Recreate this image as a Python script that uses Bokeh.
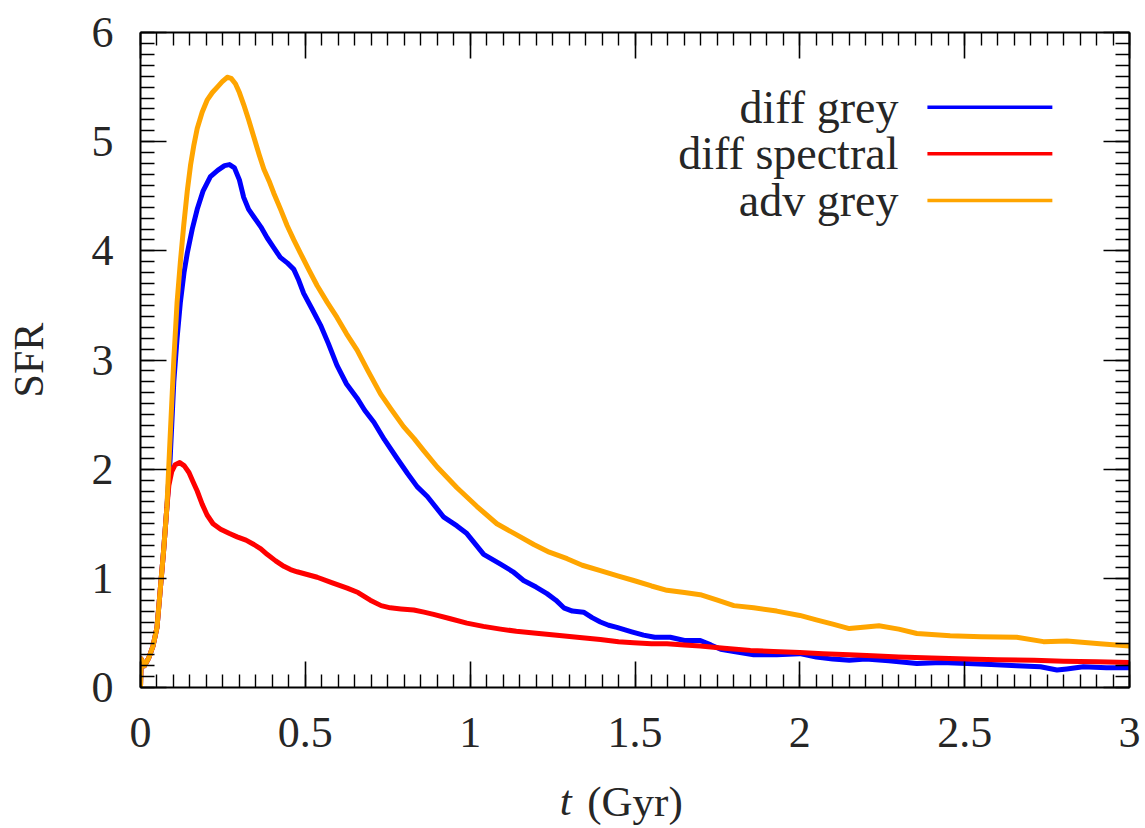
import numpy as np
from bokeh.plotting import figure
from bokeh.models import FixedTicker, LinearAxis, Range1d, Label
from bokeh.embed import file_html
from bokeh.resources import INLINE

# ---------------- data ----------------
t_start = [0, 0.002, 0.012, 0.025, 0.038, 0.05, 0.06, 0.07, 0.08]
sfr_start = [0, 0.26, 0.2, 0.27, 0.38, 0.55, 0.9, 1.25, 1.65]

t_diff_grey = [0.09, 0.101, 0.111, 0.121, 0.132, 0.142, 0.157, 0.172, 0.19, 0.212,
               0.235, 0.255, 0.27, 0.285, 0.3, 0.313, 0.328, 0.344, 0.365, 0.384,
               0.404, 0.424, 0.445, 0.465, 0.48, 0.495, 0.52, 0.546, 0.57, 0.596,
               0.625, 0.657, 0.68, 0.708, 0.74, 0.778, 0.81, 0.839, 0.87, 0.92,
               0.96, 0.99, 1.041, 1.092, 1.13, 1.162, 1.2, 1.233, 1.26, 1.284,
               1.31, 1.344, 1.37, 1.395, 1.42, 1.445, 1.49, 1.526, 1.56, 1.607,
               1.65, 1.698, 1.73, 1.76, 1.8, 1.86, 1.93, 2.0, 2.05, 2.1,
               2.15, 2.2, 2.27, 2.355, 2.43, 2.507, 2.58, 2.658, 2.73, 2.78,
               2.81, 2.86, 2.93, 3.0]
sfr_diff_grey = [2.1, 2.8, 3.2, 3.53, 3.8, 3.98, 4.2, 4.38, 4.55, 4.68,
                 4.74, 4.78, 4.79, 4.76, 4.65, 4.49, 4.38, 4.31, 4.22, 4.12,
                 4.03, 3.94, 3.89, 3.83, 3.73, 3.61, 3.47, 3.32, 3.15, 2.95,
                 2.78, 2.65, 2.54, 2.43, 2.27, 2.10, 1.96, 1.84, 1.75, 1.56,
                 1.48, 1.41, 1.22, 1.13, 1.06, 0.98, 0.92, 0.86, 0.80, 0.73,
                 0.70, 0.69, 0.64, 0.60, 0.57, 0.55, 0.51, 0.48, 0.46, 0.46,
                 0.43, 0.43, 0.39, 0.35, 0.33, 0.30, 0.30, 0.31, 0.28, 0.26,
                 0.25, 0.26, 0.245, 0.22, 0.23, 0.22, 0.21, 0.20, 0.19, 0.16,
                 0.17, 0.19, 0.18, 0.18]

t_diff_spectral = [0.086, 0.095, 0.105, 0.119, 0.133, 0.147, 0.16, 0.172, 0.187, 0.202,
                   0.22, 0.243, 0.27, 0.293, 0.32, 0.344, 0.365, 0.384, 0.41, 0.435,
                   0.455, 0.475, 0.5, 0.536, 0.58, 0.627, 0.66, 0.697, 0.73, 0.758,
                   0.79, 0.829, 0.86, 0.889, 0.94, 0.99, 1.04, 1.092, 1.14, 1.193,
                   1.24, 1.294, 1.34, 1.395, 1.45, 1.496, 1.55, 1.597, 1.65, 1.698,
                   1.77, 1.85, 1.92, 2.0, 2.07, 2.15, 2.22, 2.3, 2.4, 2.507,
                   2.6, 2.71, 2.8, 2.9, 3.0]
sfr_diff_spectral = [1.85, 1.98, 2.04, 2.06, 2.03, 1.97, 1.88, 1.80, 1.68, 1.58,
                     1.50, 1.45, 1.41, 1.38, 1.35, 1.31, 1.27, 1.22, 1.16, 1.11,
                     1.08, 1.06, 1.04, 1.01, 0.96, 0.91, 0.87, 0.80, 0.75, 0.73,
                     0.72, 0.71, 0.69, 0.67, 0.63, 0.59, 0.56, 0.535, 0.515, 0.50,
                     0.485, 0.47, 0.455, 0.44, 0.42, 0.41, 0.40, 0.40, 0.39, 0.38,
                     0.36, 0.34, 0.33, 0.32, 0.31, 0.30, 0.29, 0.28, 0.27, 0.26,
                     0.255, 0.25, 0.24, 0.235, 0.23]

t_adv_grey = [0.09, 0.101, 0.111, 0.121, 0.131, 0.142, 0.152, 0.162, 0.172, 0.187,
              0.202, 0.218, 0.233, 0.248, 0.263, 0.275, 0.288, 0.3, 0.313, 0.328,
              0.344, 0.36, 0.374, 0.39, 0.404, 0.425, 0.445, 0.465, 0.485, 0.51,
              0.536, 0.566, 0.596, 0.625, 0.657, 0.69, 0.728, 0.76, 0.798, 0.83,
              0.859, 0.9, 0.96, 1.02, 1.081, 1.14, 1.193, 1.24, 1.294, 1.34,
              1.395, 1.45, 1.496, 1.55, 1.597, 1.65, 1.698, 1.75, 1.8, 1.86,
              1.93, 2.0, 2.05, 2.1, 2.15, 2.2, 2.24, 2.3, 2.355, 2.456,
              2.55, 2.658, 2.739, 2.81, 2.91, 3.0]
sfr_adv_grey = [2.3, 3.0, 3.53, 3.9, 4.23, 4.55, 4.79, 4.97, 5.12, 5.27,
                5.38, 5.45, 5.50, 5.55, 5.59, 5.58, 5.53, 5.45, 5.34, 5.2,
                5.04, 4.88, 4.75, 4.64, 4.53, 4.38, 4.23, 4.1, 3.98, 3.83,
                3.68, 3.53, 3.39, 3.24, 3.09, 2.9, 2.69, 2.55, 2.39, 2.28,
                2.17, 2.02, 1.83, 1.66, 1.50, 1.40, 1.31, 1.24, 1.18, 1.12,
                1.07, 1.02, 0.98, 0.93, 0.89, 0.87, 0.85, 0.80, 0.75, 0.73,
                0.70, 0.66, 0.62, 0.58, 0.54, 0.555, 0.565, 0.535, 0.495, 0.474,
                0.465, 0.46, 0.42, 0.425, 0.40, 0.38]

series_names = ["diff grey", "diff spectral", "adv grey"]
series_colors = ["#0000ff", "#ff0000", "#ffa500"]

x_ticks = [0, 0.5, 1, 1.5, 2, 2.5, 3]
x_tick_labels = ["0", "0.5", "1", "1.5", "2", "2.5", "3"]
y_ticks = [0, 1, 2, 3, 4, 5, 6]
y_tick_labels = ["0", "1", "2", "3", "4", "5", "6"]

x_title_var = "t"        # italic variable
x_title_unit = "(Gyr)"   # upright unit
y_title = "SFR"

# ---------------- figure ----------------
FONT = "Liberation Serif"
TXT = "#262626"

p = figure(width=1145, height=828, output_backend="svg", toolbar_location=None,
           x_range=Range1d(0, 3), y_range=Range1d(0, 6),
           x_axis_location=None, y_axis_location=None)
p.frame_width = 989
p.frame_height = 655
p.min_border_left = 140
p.min_border_right = 16
p.min_border_top = 32
p.min_border_bottom = 141
p.outline_line_color = None
p.xgrid.visible = False
p.ygrid.visible = False
p.background_fill_color = "white"
p.border_fill_color = "white"

x_minor = [round(v, 3) for v in np.arange(0, 3.0001, 0.05)]
y_minor = [round(v, 3) for v in np.arange(0, 6.0001, 0.1)]
xt = FixedTicker(ticks=x_ticks, minor_ticks=x_minor)
yt = FixedTicker(ticks=y_ticks, minor_ticks=y_minor)


def style_axis(ax, major_len, minor_len):
    ax.axis_line_width = 2
    ax.axis_line_color = "black"
    ax.major_tick_in = major_len
    ax.major_tick_out = 0
    ax.minor_tick_in = minor_len
    ax.minor_tick_out = 0
    ax.major_tick_line_width = 1.6
    ax.minor_tick_line_width = 1.4
    ax.major_tick_line_color = "black"
    ax.minor_tick_line_color = "black"
    ax.major_label_text_font = FONT
    ax.major_label_text_font_size = "44px"
    ax.major_label_text_color = TXT


xb = LinearAxis(ticker=xt, major_label_overrides=dict(zip(x_ticks, x_tick_labels)))
style_axis(xb, 26, 13)
xb.major_label_standoff = 30
p.add_layout(xb, "below")

# second "below" axis that only carries the x title: italic "t" as a tick label,
# upright "(Gyr)" as the axis label pulled up onto the same row
T_POS = 1.29
x2 = LinearAxis(ticker=FixedTicker(ticks=[T_POS], minor_ticks=[]),
                major_label_overrides={T_POS: x_title_var})
x2.axis_line_color = None
x2.major_tick_line_color = None
x2.minor_tick_line_color = None
x2.major_tick_in = 0
x2.major_tick_out = 0
x2.major_label_standoff = 27
x2.major_label_text_font = FONT
x2.major_label_text_font_style = "italic"
x2.major_label_text_font_size = "43px"
x2.major_label_text_color = TXT
x2.axis_label = x_title_unit
x2.axis_label_text_font = FONT
x2.axis_label_text_font_style = "normal"
x2.axis_label_text_font_size = "43px"
x2.axis_label_text_color = TXT
x2.axis_label_standoff = -49
p.add_layout(x2, "below")

xa = LinearAxis(ticker=xt, major_label_overrides={v: "" for v in x_ticks})
style_axis(xa, 26, 13)
xa.major_label_standoff = 0
p.add_layout(xa, "above")

yl = LinearAxis(ticker=yt, major_label_overrides=dict(zip(y_ticks, y_tick_labels)))
style_axis(yl, 26, 14)
yl.major_label_standoff = 27
yl.axis_label = y_title
yl.axis_label_text_font = FONT
yl.axis_label_text_font_style = "normal"
yl.axis_label_text_font_size = "42px"
yl.axis_label_text_color = TXT
yl.axis_label_standoff = 37
p.add_layout(yl, "left")

yr = LinearAxis(ticker=yt, major_label_overrides={v: "" for v in y_ticks})
style_axis(yr, 26, 14)
yr.major_label_standoff = 0
p.add_layout(yr, "right")

# ---------------- lines ----------------
series = [
    (t_start + t_diff_grey, sfr_start + sfr_diff_grey),
    (t_start + t_diff_spectral, sfr_start + sfr_diff_spectral),
    (t_start + t_adv_grey, sfr_start + sfr_adv_grey),
]
for (tx, sy), c in zip(series, series_colors):
    p.line(tx, sy, line_color=c, line_width=5, line_join="round")

# ---------------- legend (label left of line) ----------------
leg_x0, leg_x1 = 2.387, 2.766
leg_rows = [5.316, 4.889, 4.461]
for name, c, ly in zip(series_names, series_colors, leg_rows):
    p.segment(x0=[leg_x0], y0=[ly], x1=[leg_x1], y1=[ly], line_color=c, line_width=3.5)
    p.add_layout(Label(x=leg_x0, y=ly, x_offset=-29, text=name, text_align="right",
                       text_baseline="middle", text_font=FONT,
                       text_font_size="46px", text_color=TXT))

open("out.html", "w").write(file_html(p, INLINE))
